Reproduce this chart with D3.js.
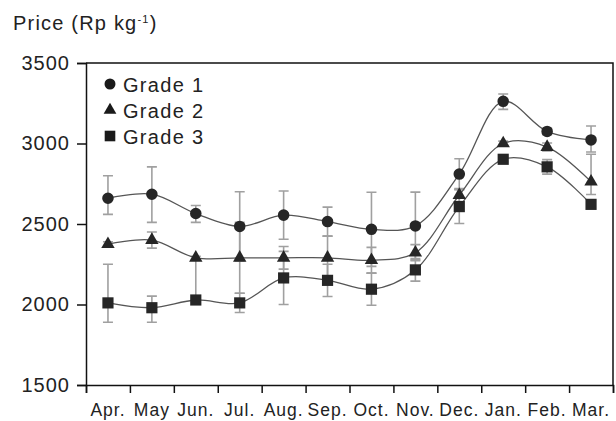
<!DOCTYPE html>
<html>
<head>
<meta charset="utf-8">
<script src="https://cdn.jsdelivr.net/npm/d3@7/dist/d3.min.js"></script>
<style>
  html, body { margin: 0; padding: 0; background: #fff; }
  svg { display: block; }
  text { font-family: "Liberation Sans", Arial, sans-serif; fill: #222; }
</style>
</head>
<body>
<svg id="chart" width="616" height="421"></svg>
<script>
// Monthly price by grade (Rp kg-1), April to March
const months = ["Apr.", "May", "Jun.", "Jul.", "Aug.", "Sep.", "Oct.", "Nov.", "Dec.", "Jan.", "Feb.", "Mar."];
const yTicks = [1500, 2000, 2500, 3000, 3500];

const grade1 = [2660, 2685, 2565, 2485, 2555, 2515, 2467, 2488, 2810, 3262, 3075, 3022];
const grade1Up = [140, 170, 50, 215, 150, 90, 230, 210, 95, 45, 20, 87];
const grade1Down = [100, 175, 55, 215, 150, 90, 230, 210, 95, 50, 20, 75];

const grade2 = [2375, 2400, 2290, 2290, 2290, 2290, 2275, 2322, 2680, 3000, 2978, 2763];
const grade2Up = [15, 50, 10, 220, 70, 135, 80, 50, 40, 15, 25, 170];
const grade2Down = [15, 50, 260, 220, 70, 135, 80, 50, 40, 15, 25, 80];

const grade3 = [2010, 1980, 2028, 2010, 2165, 2150, 2095, 2215, 2608, 2902, 2855, 2622];
const grade3Up = [240, 72, 15, 60, 165, 100, 100, 70, 105, 15, 45, 20];
const grade3Down = [120, 90, 15, 60, 165, 100, 100, 70, 105, 15, 45, 20];

const seriesNames = ["Grade 1", "Grade 2", "Grade 3"];
const symbols = [d3.symbolCircle, d3.symbolTriangle, d3.symbolSquare];

const series = [
  { name: seriesNames[0], values: grade1, up: grade1Up, down: grade1Down, symbol: symbols[0], size: 105 },
  { name: seriesNames[1], values: grade2, up: grade2Up, down: grade2Down, symbol: symbols[1], size: 78 },
  { name: seriesNames[2], values: grade3, up: grade3Up, down: grade3Down, symbol: symbols[2], size: 125 }
];

const plot = { left: 86, right: 613, top: 63, bottom: 385 };
const svg = d3.select("#chart");

const x = d3.scaleBand().domain(months).range([plot.left, plot.right]).padding(0);
const xc = m => x(m) + x.bandwidth() / 2;
const y = d3.scaleLinear().domain([1500, 3500]).range([plot.bottom, plot.top]);
const xEdge = d3.scaleLinear().domain([0, months.length]).range([plot.left, plot.right]);

// Frame (top and right borders)
svg.append("path")
  .attr("d", `M${plot.left},${plot.top}H${plot.right}V${plot.bottom}`)
  .attr("fill", "none").attr("stroke", "#111").attr("stroke-width", 1.5);

// Y axis
const yAxis = svg.append("g").attr("transform", `translate(${plot.left},0)`)
  .call(d3.axisLeft(y).tickValues(yTicks).tickSize(9).tickPadding(7).tickFormat(d3.format("d")));
yAxis.select(".domain").attr("stroke", "#111").attr("stroke-width", 1.5);
yAxis.selectAll(".tick line").attr("stroke", "#111").attr("stroke-width", 1.5);
yAxis.selectAll(".tick text")
  .style("font-family", "'Liberation Sans', Arial, sans-serif")
  .style("font-size", "20px").style("letter-spacing", "1px").attr("fill", "#222");

// X axis: ticks at month boundaries, labels centred in each month
const xTickAxis = svg.append("g").attr("transform", `translate(0,${plot.bottom})`)
  .call(d3.axisBottom(xEdge).tickValues(d3.range(0, months.length + 1)).tickSize(8).tickFormat(""));
xTickAxis.select(".domain").attr("stroke", "#111").attr("stroke-width", 1.5);
xTickAxis.selectAll(".tick line").attr("stroke", "#111").attr("stroke-width", 1.5);

const xLabelAxis = svg.append("g").attr("transform", `translate(0,${plot.bottom})`)
  .call(d3.axisBottom(x).tickSize(0).tickPadding(19));
xLabelAxis.select(".domain").remove();
xLabelAxis.selectAll(".tick text")
  .style("font-family", "'Liberation Sans', Arial, sans-serif")
  .style("font-size", "17.5px").style("letter-spacing", "1px").attr("fill", "#222");

// Axis title
const title = svg.append("text").attr("x", 13).attr("y", 30)
  .style("font-size", "20px").style("letter-spacing", "1.2px");
title.append("tspan").text("Price (Rp kg");
title.append("tspan").attr("dy", -7).style("font-size", "11px").text("-1");
title.append("tspan").attr("dy", 7).text(")");

// Error bars
const capW = 5;
const errG = svg.append("g").attr("stroke", "#a0a0a0").attr("stroke-width", 1.6).attr("fill", "none");
series.forEach(s => {
  s.values.forEach((v, i) => {
    const cx = xc(months[i]);
    const y1 = y(v + s.up[i]), y0 = y(v - s.down[i]);
    errG.append("path")
      .attr("d", `M${cx},${y1}V${y0}M${cx - capW},${y1}H${cx + capW}M${cx - capW},${y0}H${cx + capW}`);
  });
});

// Smoothed lines
const line = d3.line()
  .x((d, i) => xc(months[i]))
  .y(d => y(d))
  .curve(d3.curveCatmullRom.alpha(0.5));

series.forEach(s => {
  svg.append("path").datum(s.values)
    .attr("d", line)
    .attr("fill", "none").attr("stroke", "#555").attr("stroke-width", 1.3);
});

// Markers
series.forEach(s => {
  const sym = d3.symbol().type(s.symbol).size(s.size);
  svg.append("g").selectAll("path").data(s.values).join("path")
    .attr("transform", (d, i) => `translate(${xc(months[i])},${y(d)})`)
    .attr("d", sym)
    .attr("fill", "#262626");
});

// Legend
const legend = svg.append("g");
series.forEach((s, i) => {
  const cy = 84 + i * 26;
  legend.append("path")
    .attr("transform", `translate(110,${cy})`)
    .attr("d", d3.symbol().type(s.symbol).size(s.size * 0.9)())
    .attr("fill", "#1a1a1a");
  legend.append("text")
    .attr("x", 123).attr("y", cy + 7.5)
    .style("font-size", "20px").style("letter-spacing", "1.3px")
    .text(s.name);
});
</script>
</body>
</html>
